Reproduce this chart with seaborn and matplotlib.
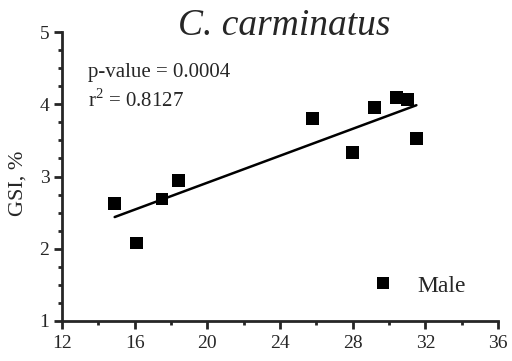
import numpy as np
import pandas as pd
import matplotlib
matplotlib.use("Agg")
import matplotlib.pyplot as plt
import seaborn as sns
from matplotlib.ticker import MultipleLocator

length = [14.9, 16.1, 17.5, 18.4, 25.8, 28.0, 29.2, 30.4, 31.0, 31.5]
gsi = [2.63, 2.08, 2.69, 2.95, 3.80, 3.33, 3.96, 4.10, 4.07, 3.53]
sex = ["Male"] * len(length)
xticks = [12, 16, 20, 24, 28, 32, 36]
yticks = [1, 2, 3, 4, 5]

df = pd.DataFrame({"length": length, "gsi": gsi, "sex": sex})

sns.set_style("ticks")
plt.rcParams["font.family"] = ["Liberation Serif", "DejaVu Serif"]
plt.rcParams["mathtext.fontset"] = "custom"
plt.rcParams["mathtext.rm"] = "Liberation Serif"

fig = plt.figure(figsize=(5.12, 3.61), dpi=100)
ax = fig.add_axes([0.121, 0.111, 0.852, 0.800])

sns.regplot(data=df, x="length", y="gsi", scatter=False, ci=None, ax=ax,
            line_kws=dict(color="black", lw=1.8))
sns.scatterplot(data=df, x="length", y="gsi", hue="sex", palette=["black"],
                marker="s", s=85, edgecolor="black", linewidth=0, ax=ax)

ax.set_xlim(12, 36)
ax.set_ylim(1, 5)
ax.set_xticks(xticks)
ax.set_yticks(yticks)
ax.xaxis.set_minor_locator(MultipleLocator(2))
ax.yaxis.set_minor_locator(MultipleLocator(0.25))
ax.tick_params(which="major", length=6, width=2, labelsize=14, direction="out")
ax.tick_params(axis="x", which="major", pad=4)
ax.tick_params(axis="y", which="major", pad=3)
ax.tick_params(which="minor", length=3, width=2, direction="out")
for side in ["left", "bottom"]:
    ax.spines[side].set_linewidth(2)
for side in ["top", "right"]:
    ax.spines[side].set_visible(False)

ax.set_xlabel("")
ax.set_ylabel("GSI, %", fontsize=16)
ax.yaxis.set_label_coords(-0.080, 0.477)

ax.text(0.510, 0.99, "C. carminatus", transform=ax.transAxes, fontstyle="italic",
        fontsize=27, ha="center", va="baseline")

ax.text(0.060, 0.844, "p-value = 0.0004", transform=ax.transAxes, fontsize=15,
        va="baseline")
ax.text(0.060, 0.740, r"r$^{2}$ = 0.8127", transform=ax.transAxes, fontsize=15,
        va="baseline")

leg = ax.legend(loc="center right", frameon=False, fontsize=17, handletextpad=0.45,
                bbox_to_anchor=(0.948, 0.121), borderaxespad=0)

fig.savefig("out.png", dpi=100)
